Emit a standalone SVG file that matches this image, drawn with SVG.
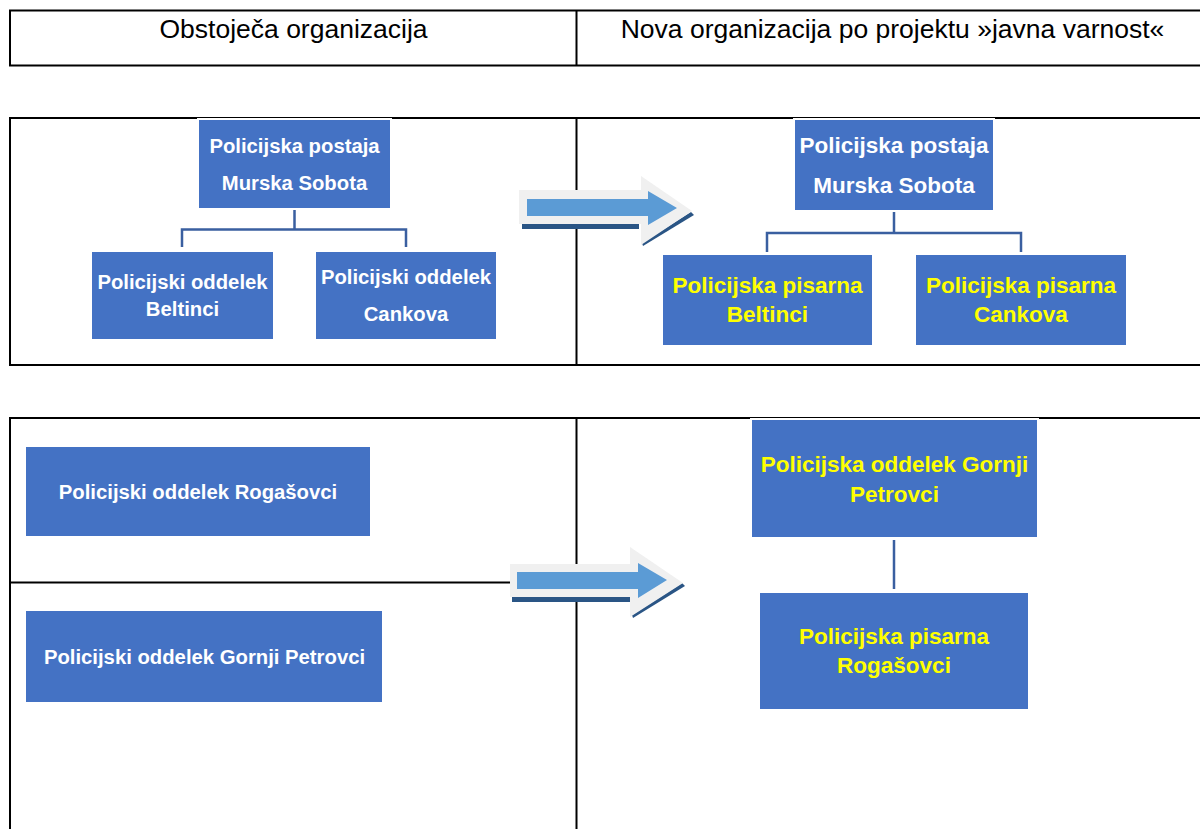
<svg xmlns="http://www.w3.org/2000/svg" width="1200" height="829" viewBox="0 0 1200 829">
<style>
.tbl{stroke:#000;stroke-width:2;fill:none}
.hdr{font-family:"Liberation Sans",Arial,sans-serif;font-size:26.5px;fill:#000;text-anchor:middle}
.box{fill:#4472c4;stroke:#fff;stroke-width:2}
.tw{font-family:"Liberation Sans",Arial,sans-serif;font-weight:bold;font-size:20.3px;fill:#fff;text-anchor:middle}
.ty{font-family:"Liberation Sans",Arial,sans-serif;font-weight:bold;font-size:22.5px;fill:#ffff00;text-anchor:middle}
.tw2{font-family:"Liberation Sans",Arial,sans-serif;font-weight:bold;font-size:22.5px;fill:#fff;text-anchor:middle}
.con{stroke:#3a5fa0;stroke-width:2.5;fill:none}
.ag{fill:#f0f0f0}
.ab{fill:#5b9bd5}
.as{fill:#2a5585}
</style>
<rect width="1200" height="829" fill="#fff"/>
<g id="table">
<path class="tbl" d="M9 10.5H1200M9 65.5H1200M10 10V66M576.5 10V66"/>
<path class="tbl" d="M9 118H1200M9 365H1200M10 117V366M576.5 117V366"/>
<path class="tbl" d="M9 418H1200M10 417V829M576.5 417V829M10 582.5H576"/>
</g>
<g id="header-text">
<text class="hdr" x="293.5" y="38">Obstoječa organizacija</text>
<text class="hdr" x="892.5" y="38">Nova organizacija po projektu »javna varnost«</text>
</g>
<g id="connectors">
<path class="con" d="M294.5 209V229.5M182 247V229.5H406V247"/>
<path class="con" d="M894 212V233M767 252V233H1021V252"/>
<path class="con" d="M894 540V589"/>
</g>
<g id="arrow1">
<rect class="as" x="522" y="224" width="117" height="5"/>
<polygon class="as" points="642,243 691,212 694,215 643,246"/>
<polygon class="ag" points="519,190 641,190 641,176 692,211 641,245 641,224 519,224"/>
<polygon class="ab" points="527,199 648,199 648,191 677,208 648,225 648,216 527,216"/>
</g>
<g id="arrow2">
<rect class="as" x="512" y="597" width="118" height="5"/>
<polygon class="as" points="632,615 682,583 685,586 633,618"/>
<polygon class="ag" points="510,564 630,564 630,547 683,583 630,617 630,597 510,597"/>
<polygon class="ab" points="517,572 638,572 638,563 667,580 638,598 638,589 517,589"/>
</g>
<g id="ms-old">
<rect class="box" x="198" y="119" width="193" height="90"/>
<text class="tw" x="294.5" y="153">Policijska postaja</text>
<text class="tw" x="294.5" y="190">Murska Sobota</text>
</g>
<g id="beltinci-old">
<rect class="box" x="91" y="251" width="183" height="89"/>
<text class="tw" x="182.5" y="289">Policijski oddelek</text>
<text class="tw" x="182.5" y="316">Beltinci</text>
</g>
<g id="cankova-old">
<rect class="box" x="315" y="251" width="182" height="89"/>
<text class="tw" x="406" y="284">Policijski oddelek</text>
<text class="tw" x="406" y="321">Cankova</text>
</g>
<g id="ms-new">
<rect class="box" x="794" y="119" width="200" height="92"/>
<text class="tw2" x="894" y="153">Policijska postaja</text>
<text class="tw2" x="894" y="193">Murska Sobota</text>
</g>
<g id="beltinci-new">
<rect class="box" x="662" y="254" width="211" height="92"/>
<text class="ty" x="767.5" y="293">Policijska pisarna</text>
<text class="ty" x="767.5" y="322">Beltinci</text>
</g>
<g id="cankova-new">
<rect class="box" x="915" y="254" width="212" height="92"/>
<text class="ty" x="1021" y="293">Policijska pisarna</text>
<text class="ty" x="1021" y="322">Cankova</text>
</g>
<g id="rogasovci-old">
<rect class="box" x="25" y="446" width="346" height="91"/>
<text class="tw" x="198" y="499">Policijski oddelek Rogašovci</text>
</g>
<g id="gornji-old">
<rect class="box" x="25" y="610" width="358" height="93"/>
<text class="tw" x="204.5" y="664">Policijski oddelek Gornji Petrovci</text>
</g>
<g id="gornji-new">
<rect class="box" x="751" y="419" width="287" height="119"/>
<text class="ty" x="894.5" y="472">Policijska oddelek Gornji</text>
<text class="ty" x="894.5" y="502">Petrovci</text>
</g>
<g id="rogasovci-new">
<rect class="box" x="759" y="592" width="270" height="118"/>
<text class="ty" x="894" y="644">Policijska pisarna</text>
<text class="ty" x="894" y="673">Rogašovci</text>
</g>
</svg>
